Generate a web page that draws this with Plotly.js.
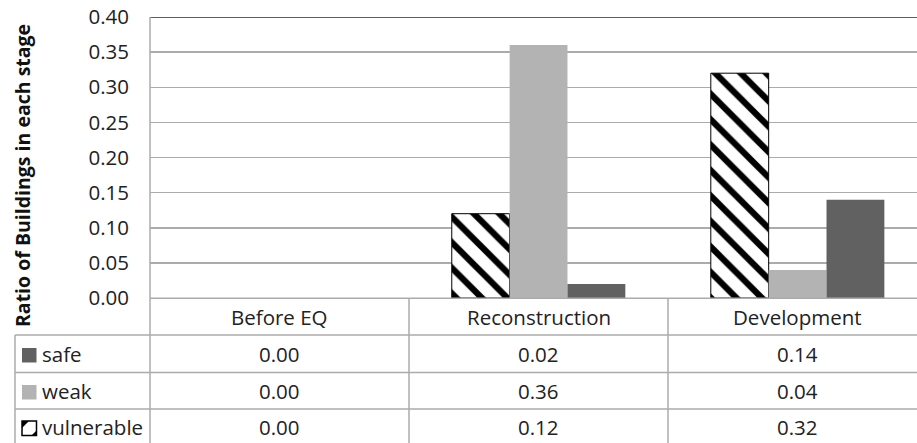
<!DOCTYPE html>
<html>
<head>
<meta charset="utf-8">
<script src="https://cdn.plot.ly/plotly-3.0.1.min.js"></script>
<style>
  html, body { margin: 0; padding: 0; background: #ffffff; }
  #chart { width: 917px; height: 443px; }
</style>
</head>
<body>
<div id="chart"></div>
<script>
// Stages and the share of buildings in each condition class
const stages = ['Before EQ', 'Reconstruction', 'Development'];
const safe = [0.00, 0.02, 0.14];
const weak = [0.00, 0.36, 0.04];
const vulnerable = [0.00, 0.12, 0.32];
const yTicks = [0, 0.05, 0.10, 0.15, 0.20, 0.25, 0.30, 0.35, 0.40];

// Figure geometry (pixels)
const W = 917, H = 443;
const M = { l: 150, r: 0, t: 17, b: 145 };
const PW = W - M.l - M.r, PH = H - M.t - M.b;
const px = v => (v - M.l) / PW;          // pixel x -> paper x
const py = v => (H - M.b - v) / PH;      // pixel y -> paper y

const FONT = 'Open Sans, Noto Sans, sans-serif';
const TXT = '#222222';
const GRID = '#ababab';
const SAFE_C = '#616161';
const WEAK_C = '#b3b3b3';
const FS = 20.5;

const traces = [
  {
    type: 'bar', name: 'vulnerable', x: stages, y: vulnerable,
    marker: {
      color: '#ffffff',
      pattern: { shape: '\\', fgcolor: '#000000', bgcolor: '#ffffff', size: 18, solidity: 0.35 },
      // no outline on empty bars
      line: { color: '#000000', width: vulnerable.map(v => (v > 0 ? 1 : 0)) }
    },
    hoverinfo: 'skip'
  },
  {
    type: 'bar', name: 'weak', x: stages, y: weak,
    marker: { color: WEAK_C, line: { width: 0 } }, hoverinfo: 'skip'
  },
  {
    type: 'bar', name: 'safe', x: stages, y: safe,
    marker: { color: SAFE_C, line: { width: 0 } }, hoverinfo: 'skip'
  }
];

// Data table beneath the plot
const rows = [
  { label: 'safe', values: safe, yc: 354 },
  { label: 'weak', values: weak, yc: 391 },
  { label: 'vulnerable', values: vulnerable, yc: 427 }
];

const shapes = [];
const line = (x0, y0, x1, y1, color, width) => shapes.push({
  type: 'line', xref: 'paper', yref: 'paper',
  x0: px(x0), y0: py(y0), x1: px(x1), y1: py(y1),
  line: { color: color, width: width }
});

// plot frame: dark top edge, grey value axis
shapes.push({ type: 'line', xref: 'paper', yref: 'y', x0: 0, x1: 1, y0: 0.40, y1: 0.40,
  line: { color: '#2a2a2a', width: 1.5 } });
line(150, 17, 150, H + 2, GRID, 1.5);
// table grid
line(150, 298.3, W + 2, 298.3, GRID, 1.5);
line(15, 335, W + 2, 335, GRID, 1.5);
line(15, 372.5, W + 2, 372.5, GRID, 1.5);
line(15, 409, W + 2, 409, GRID, 1.5);
line(15, 335, 15, H + 2, GRID, 1.5);
line(409, 298.3, 409, H + 2, GRID, 1.5);
line(668, 298.3, 668, H + 2, GRID, 1.5);

// legend keys in the table
const keyRect = (yc, fill, outline) => shapes.push({
  type: 'rect', xref: 'paper', yref: 'paper',
  x0: px(22), x1: px(36.5), y0: py(yc - 7), y1: py(yc + 7.5),
  fillcolor: fill, line: { color: outline || fill, width: outline ? 1.5 : 0 }
});
keyRect(rows[0].yc + 1, SAFE_C);
keyRect(rows[1].yc + 1, WEAK_C);
keyRect(rows[2].yc + 1, '#ffffff', '#000000');
{
  const yc = rows[2].yc + 1;
  const x0 = 22, x1 = 36.5, y0 = yc - 7, y1 = yc + 7.5;
  const P = (x, y) => px(x).toFixed(5) + ',' + py(y).toFixed(5);
  // hatch marks inside the vulnerable key
  shapes.push({ type: 'path', xref: 'paper', yref: 'paper',
    path: 'M' + P(x0, y0) + ' L' + P(x0 + 7, y0) + ' L' + P(x0, y0 + 7) + ' Z',
    fillcolor: '#000000', line: { width: 0 } });
  shapes.push({ type: 'path', xref: 'paper', yref: 'paper',
    path: 'M' + P(x1, y1) + ' L' + P(x1 - 5, y1) + ' L' + P(x1, y1 - 5) + ' Z',
    fillcolor: '#000000', line: { width: 0 } });
}

const annotations = [];
const tableFont = { family: FONT, size: FS, color: TXT };
// column headers
stages.forEach((s, i) => annotations.push({
  xref: 'x', yref: 'paper', x: i, y: py(317), text: s, showarrow: false,
  xanchor: 'center', yanchor: 'middle', font: tableFont
}));
// row labels and values
rows.forEach(r => {
  annotations.push({
    xref: 'paper', yref: 'paper', x: px(40), y: py(r.yc), text: r.label, showarrow: false,
    xanchor: 'left', yanchor: 'middle', font: tableFont
  });
  r.values.forEach((v, i) => annotations.push({
    xref: 'x', yref: 'paper', x: i, y: py(r.yc), text: v.toFixed(2), showarrow: false,
    xanchor: 'center', yanchor: 'middle', font: tableFont
  }));
});
// value axis title
annotations.push({
  xref: 'paper', yref: 'paper', x: px(22), y: py(176),
  text: '<b>Ratio of Buildings in each stage</b>', textangle: -90, showarrow: false,
  xanchor: 'center', yanchor: 'middle', font: { family: FONT, size: 19.5, color: '#111111' }
});

const layout = {
  width: W, height: H,
  margin: M,
  paper_bgcolor: '#ffffff', plot_bgcolor: '#ffffff',
  showlegend: false,
  barmode: 'group', bargap: 0.33, bargroupgap: 0,
  xaxis: {
    type: 'category', range: [-0.5, 2.461], showticklabels: false,
    showgrid: false, zeroline: false, showline: false, fixedrange: true
  },
  yaxis: {
    range: [0, 0.40], tickvals: yTicks, tickformat: '.2f',
    showgrid: true, gridcolor: GRID, gridwidth: 1.5,
    zeroline: false, showline: false, ticks: '',
    ticklabelstandoff: 20,
    tickfont: { family: FONT, size: FS, color: TXT }, fixedrange: true
  },
  shapes: shapes,
  annotations: annotations,
  font: { family: FONT, color: TXT }
};

Plotly.newPlot('chart', traces, layout, { displayModeBar: false, staticPlot: true });
</script>
</body>
</html>
